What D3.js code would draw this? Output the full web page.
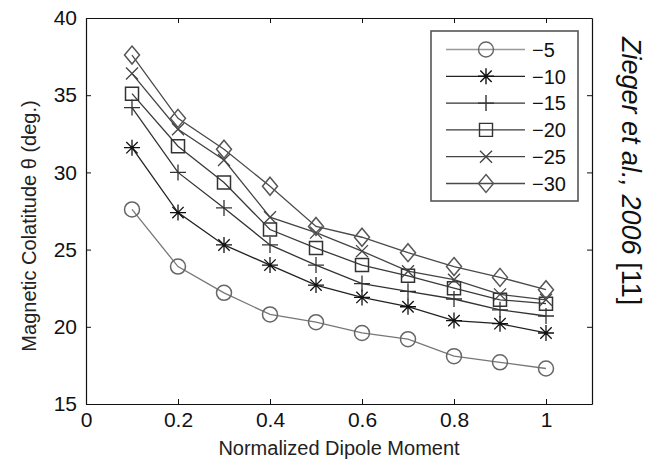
<!DOCTYPE html>
<html>
<head>
<meta charset="utf-8">
<script src="https://cdn.jsdelivr.net/npm/d3@7"></script>
<style>
  body { margin: 0; background: #fff; }
  svg { display: block; font-family: "Liberation Sans", Arial, Helvetica, sans-serif; }
</style>
</head>
<body>
<div id="chart"></div>
<script>
// data
const moments = [0.1, 0.2, 0.3, 0.4, 0.5, 0.6, 0.7, 0.8, 0.9, 1.0];
const labels = ["\u22125", "\u221210", "\u221215", "\u221220", "\u221225", "\u221230"];
const s5  = [27.6, 23.9, 22.2, 20.8, 20.3, 19.6, 19.2, 18.1, 17.7, 17.3];
const s10 = [31.6, 27.4, 25.3, 24.0, 22.7, 21.9, 21.3, 20.4, 20.2, 19.6];
const s15 = [34.2, 30.0, 27.7, 25.3, 24.0, 22.8, 22.3, 21.8, 21.1, 20.7];
const s20 = [35.1, 31.7, 29.35, 26.3, 25.1, 24.0, 23.3, 22.5, 21.75, 21.5];
const s25 = [36.4, 32.8, 30.8, 27.1, 26.1, 24.9, 23.6, 23.05, 22.1, 21.75];
const s30 = [37.6, 33.5, 31.5, 29.1, 26.5, 25.8, 24.8, 23.9, 23.2, 22.4];
const xTicks = [0, 0.2, 0.4, 0.6, 0.8, 1];
const yTicks = [15, 20, 25, 30, 35, 40];

const width = 647, height = 465;
const marginLeft = 86, marginRight = 55, marginTop = 18, marginBottom = 61;

const series = [
    {name: labels[0], values: s5,  marker: "circle",   line: "#777", mk: "#666"},
    {name: labels[1], values: s10, marker: "asterisk", line: "#222", mk: "#111"},
    {name: labels[2], values: s15, marker: "plus",     line: "#333", mk: "#333"},
    {name: labels[3], values: s20, marker: "square",   line: "#3a3a3a", mk: "#333"},
    {name: labels[4], values: s25, marker: "x",        line: "#444", mk: "#444"},
    {name: labels[5], values: s30, marker: "diamond",  line: "#4a4a4a", mk: "#555"}
];

// marker shapes as paths centred on 0,0
function markerPath(type) {
    const p = d3.path();
    if (type === "circle") {
        p.moveTo(7.5, 0); p.arc(0, 0, 7.5, 0, 2 * Math.PI);
    } else if (type === "square") {
        p.rect(-6.5, -6.5, 13, 13);
    } else if (type === "diamond") {
        p.moveTo(0, -9); p.lineTo(7.5, 0); p.lineTo(0, 9); p.lineTo(-7.5, 0); p.closePath();
    } else if (type === "plus") {
        p.moveTo(-8, 0); p.lineTo(8, 0); p.moveTo(0, -8); p.lineTo(0, 8);
    } else if (type === "x") {
        p.moveTo(-6, -6); p.lineTo(6, 6); p.moveTo(-6, 6); p.lineTo(6, -6);
    } else if (type === "asterisk") {
        p.moveTo(-8, 0); p.lineTo(8, 0); p.moveTo(0, -8); p.lineTo(0, 8);
        p.moveTo(-5.7, -5.7); p.lineTo(5.7, 5.7); p.moveTo(-5.7, 5.7); p.lineTo(5.7, -5.7);
    }
    return p.toString();
}

const x = d3.scaleLinear().domain([0, 1.1]).range([marginLeft, width - marginRight]);
const y = d3.scaleLinear().domain([15, 40]).range([height - marginBottom, marginTop]);

const svg = d3.select("#chart").append("svg")
    .attr("width", width)
    .attr("height", height);

svg.append("rect").attr("width", width).attr("height", height).attr("fill", "#fff");

// axes, MATLAB style box with inward ticks
svg.append("g")
    .attr("transform", `translate(0,${height - marginBottom})`)
    .call(d3.axisBottom(x).tickValues(xTicks).tickFormat(d => String(d))
        .tickSizeInner(-5).tickSizeOuter(0).tickPadding(8));
svg.append("g")
    .attr("transform", `translate(0,${marginTop})`)
    .call(d3.axisTop(x).tickValues(xTicks).tickFormat("").tickSizeInner(-5).tickSizeOuter(0));
svg.append("g")
    .attr("transform", `translate(${marginLeft},0)`)
    .call(d3.axisLeft(y).tickValues(yTicks).tickSizeInner(-5).tickSizeOuter(0).tickPadding(9));
svg.append("g")
    .attr("transform", `translate(${width - marginRight},0)`)
    .call(d3.axisRight(y).tickValues(yTicks).tickFormat("").tickSizeInner(-5).tickSizeOuter(0));

svg.selectAll(".domain").attr("stroke", "#111").attr("stroke-width", 1.2);
svg.selectAll(".tick line").attr("stroke", "#111");
svg.selectAll(".tick text")
    .attr("font-size", 21)
    .attr("fill", "#111")
    .attr("font-family", "Liberation Sans, Arial, sans-serif");

// axis titles
svg.append("text")
    .attr("x", (marginLeft + width - marginRight) / 2)
    .attr("y", 455)
    .attr("text-anchor", "middle")
    .attr("font-size", 20)
    .attr("fill", "#222")
    .text("Normalized Dipole Moment");

svg.append("text")
    .attr("transform", `translate(36,${(marginTop + height - marginBottom) / 2 + 15}) rotate(-90)`)
    .attr("text-anchor", "middle")
    .attr("font-size", 20)
    .attr("fill", "#222")
    .text("Magnetic Colatitude \u03b8 (deg.)");

// series lines and markers
const line = d3.line()
    .x((d, i) => x(moments[i]))
    .y(d => y(d));

series.forEach(s => {
    svg.append("path")
        .attr("fill", "none")
        .attr("stroke", s.line)
        .attr("stroke-width", 1.3)
        .attr("d", line(s.values));
});
series.forEach(s => {
    const filled = ["circle", "square", "diamond"].includes(s.marker);
    svg.append("g").selectAll("path")
        .data(s.values)
        .join("path")
        .attr("transform", (d, i) => `translate(${x(moments[i])},${y(d)})`)
        .attr("d", markerPath(s.marker))
        .attr("fill", "none")
        .attr("stroke", s.mk)
        .attr("stroke-width", filled ? 1.5 : 1.3);
});

// legend
const legend = svg.append("g").attr("transform", "translate(431,31)");
legend.append("rect")
    .attr("width", 147).attr("height", 170)
    .attr("fill", "#fff")
    .attr("stroke", "#555").attr("stroke-width", 1.6);

const entry = legend.selectAll("g.entry")
    .data(series)
    .join("g")
    .attr("class", "entry")
    .attr("transform", (d, i) => `translate(0,${18.5 + i * 26.8})`);
entry.append("line")
    .attr("x1", 15).attr("x2", 94)
    .attr("stroke", d => d.marker === "circle" ? "#999" : d.line)
    .attr("stroke-width", 1.3);
entry.append("path")
    .attr("transform", "translate(55,0)")
    .attr("d", d => markerPath(d.marker))
    .attr("fill", "none")
    .attr("stroke", d => d.mk)
    .attr("stroke-width", 1.4);
entry.append("text")
    .attr("x", 101)
    .attr("dy", "0.36em")
    .attr("font-size", 20)
    .attr("fill", "#111")
    .text(d => d.name);

// citation down the right side
const cite = svg.append("text")
    .attr("transform", "translate(622,37) rotate(90)")
    .attr("font-size", 27)
    .attr("fill", "#111");
cite.append("tspan")
    .attr("font-style", "italic")
    .text("Zieger et al., 2006 ");
cite.append("tspan")
    .text("[11]");
</script>
</body>
</html>
